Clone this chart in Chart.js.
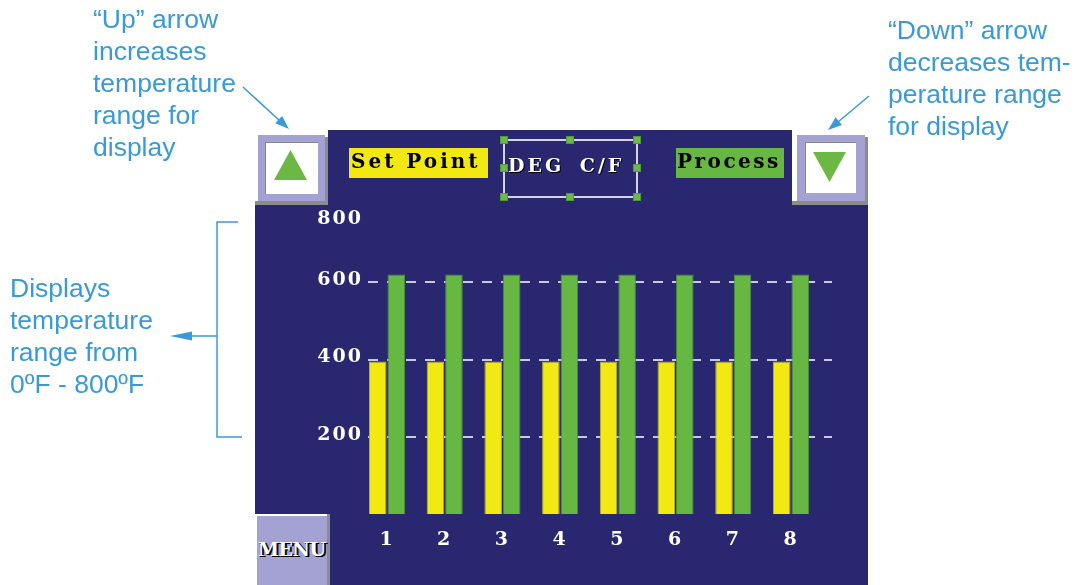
<!DOCTYPE html>
<html>
<head>
<meta charset="utf-8">
<script src="https://cdn.jsdelivr.net/npm/chart.js@4.4.1/dist/chart.umd.min.js"></script>
<style>
  html, body { margin: 0; padding: 0; background: #fff; }
  #page { position: relative; width: 1078px; height: 585px; overflow: hidden; font-family: "Liberation Sans", Arial, sans-serif; }
  .note { position: absolute; color: #3a9ad9; font-size: 26.5px; line-height: 32px; white-space: nowrap; }
  .blk { position: absolute; }
  .hmi { position: absolute; font-family: "DejaVu Serif", serif; font-weight: bold; white-space: pre; }
  #chart { position: absolute; left: 0; top: 0; }
  svg { position: absolute; left: 0; top: 0; }
</style>
</head>
<body>
<div id="page">
  <!-- screen panel -->
  <div class="blk" style="left:255px;top:130px;width:613px;height:455px;background:#29276f"></div>

  <canvas id="chart" width="1078" height="585"></canvas>

  <!-- up button -->
  <div class="blk" style="left:255px;top:130px;width:73px;height:71px;background:#fff"></div>
  <div class="blk" style="left:325px;top:137px;width:3px;height:68px;background:#8c8c8c"></div>
  <div class="blk" style="left:255px;top:201px;width:73px;height:4px;background:#8c8c8c"></div>
  <div class="blk" style="left:258px;top:135px;width:67px;height:66px;background:#a4a2d2"></div>
  <div class="blk" style="left:265px;top:142px;width:52px;height:51px;background:#fff;border-left:1px solid #888;border-top:1px solid #888"></div>

  <!-- down button -->
  <div class="blk" style="left:792px;top:130px;width:76px;height:71px;background:#fff"></div>
  <div class="blk" style="left:865px;top:137px;width:3px;height:68px;background:#8c8c8c"></div>
  <div class="blk" style="left:792px;top:201px;width:76px;height:4px;background:#8c8c8c"></div>
  <div class="blk" style="left:797px;top:135px;width:68px;height:66px;background:#a4a2d2"></div>
  <div class="blk" style="left:805px;top:142px;width:50px;height:50px;background:#fff;border-left:1px solid #888;border-top:1px solid #888"></div>

  <!-- legend labels -->
  <div class="blk" style="left:349px;top:148px;width:139px;height:30px;background:#f2e913"></div>
  <div class="hmi" style="left:351px;top:147px;font-size:20px;line-height:28px;letter-spacing:3px;color:#000">Set Point</div>
  <div class="blk" style="left:676px;top:148px;width:108px;height:30px;background:#66b843"></div>
  <div class="hmi" style="left:677px;top:147px;font-size:20px;line-height:28px;letter-spacing:2.5px;color:#000">Process</div>
  <div class="hmi" style="left:508px;top:153px;font-size:19px;line-height:24px;letter-spacing:3px;word-spacing:6px;color:#fff;text-shadow:1px 1px 0 #000">DEG C/F</div>

  <!-- menu button -->
  <div class="blk" style="left:255px;top:514px;width:75px;height:71px;background:#8c8c8c"></div>
  <div class="blk" style="left:255px;top:514px;width:72px;height:71px;background:#fff"></div>
  <div class="blk" style="left:257px;top:516px;width:70px;height:69px;background:#a4a2d2"></div>
  <div class="hmi" style="left:258px;top:537px;font-size:19px;line-height:24px;letter-spacing:-0.5px;color:#fff;text-shadow:1px 1px 0 #000,2px 1px 0 #000">MENU</div>

  <!-- annotations -->
  <div class="note" style="left:93px;top:3px">“Up” arrow<br>increases<br>temperature<br>range for<br>display</div>
  <div class="note" style="left:888px;top:14px">“Down” arrow<br>decreases tem-<br>perature range<br>for display</div>
  <div class="note" style="left:10px;top:272px">Displays<br>temperature<br>range from<br>0ºF - 800ºF</div>

  <svg width="1078" height="585">
    <polygon points="290.5,150 274,180 307,180" fill="#6bb845"/>
    <polygon points="813,152 846,152 829.5,182" fill="#6bb845"/>
    <rect x="504" y="140" width="133" height="57" fill="none" stroke="#d6d2ee" stroke-width="2"/>
    <g fill="#6cb84a" stroke="#4f9a35" stroke-width="1">
      <rect x="500.5" y="136.5" width="7" height="7"/>
      <rect x="566.5" y="136.5" width="7" height="7"/>
      <rect x="633.5" y="136.5" width="7" height="7"/>
      <rect x="500.5" y="164.5" width="7" height="7"/>
      <rect x="633.5" y="164.5" width="7" height="7"/>
      <rect x="500.5" y="193.5" width="7" height="7"/>
      <rect x="566.5" y="193.5" width="7" height="7"/>
      <rect x="633.5" y="193.5" width="7" height="7"/>
    </g>
    <g stroke="#3a9ad9" stroke-width="1.5" fill="none">
      <line x1="243" y1="87" x2="280" y2="121"/>
      <line x1="869" y1="96" x2="838" y2="122"/>
      <polyline points="238,222 217,222 217,437 242,437"/>
      <line x1="217" y1="336" x2="188" y2="336"/>
    </g>
    <g fill="#3a9ad9">
      <polygon points="289,129 275.3,123.3 282.1,115.9"/>
      <polygon points="828,130 835.6,117.3 842,124.9"/>
      <polygon points="170,336 192,331.5 192,340.5"/>
    </g>
  </svg>
</div>

<script>
  const categories = ['1', '2', '3', '4', '5', '6', '7', '8'];
  const setPointValues = [395, 395, 395, 395, 395, 395, 395, 395];
  const processValues = [620, 620, 620, 620, 620, 620, 620, 620];
  const yTicks = [200, 400, 600, 800];

  // x axis range picked so the chart area lines up with the dashed grid
  const xMin = 0.6708;
  const xMax = 8.7104;

  const toPoints = (values) => values.map((v, i) => ({ x: i + 1, y: v }));

  const hmiLook = {
    id: 'hmiLook',
    beforeDraw(chart) {
      chart.ctx.letterSpacing = '2px';
      // the top label sits lower on the real panel
      chart.scales.y.getLabelItems().forEach((item) => {
        if (item.label === '800' && !item.moved) {
          item.options.translation[1] += 16;
          item.moved = true;
        }
      });
    }
  };

  Chart.defaults.font.family = '"DejaVu Serif", serif';

  new Chart(document.getElementById('chart'), {
    type: 'bar',
    data: {
      datasets: [
        {
          label: 'Set Point',
          data: toPoints(setPointValues),
          backgroundColor: '#f2e913',
          borderColor: '#b9b23a',
          borderWidth: 1,
          categoryPercentage: 0.641,
          barPercentage: 0.95
        },
        {
          label: 'Process',
          data: toPoints(processValues),
          backgroundColor: '#66b843',
          borderColor: '#4c8f3a',
          borderWidth: 1,
          categoryPercentage: 0.641,
          barPercentage: 0.95
        }
      ]
    },
    options: {
      responsive: false,
      animation: false,
      devicePixelRatio: 1,
      layout: { padding: { left: 0, top: 205, right: 246, bottom: 0 } },
      plugins: {
        legend: { display: false },
        tooltip: { enabled: false }
      },
      scales: {
        x: {
          type: 'linear',
          offset: false,
          min: xMin,
          max: xMax,
          afterBuildTicks: (scale) => { scale.ticks = categories.map((c, i) => ({ value: i + 1 })); },
          afterFit: (scale) => { scale.height = 71; },
          grid: { display: false },
          border: { display: false },
          ticks: {
            color: '#ffffff',
            font: { size: 19, weight: 'bold' },
            padding: 7,
            autoSkip: false,
            maxRotation: 0,
            callback: (value) => categories[value - 1]
          }
        },
        y: {
          min: 0,
          max: 800,
          afterBuildTicks: (scale) => { scale.ticks = yTicks.map((v) => ({ value: v })); },
          afterFit: (scale) => { scale.width = 368; },
          grid: {
            color: (ctx) => (ctx.tick && ctx.tick.value === 800 ? 'rgba(0,0,0,0)' : '#c9c8e2'),
            lineWidth: 2,
            drawTicks: false
          },
          border: { display: false, dash: [10, 9] },
          ticks: {
            color: '#ffffff',
            font: { size: 19, weight: 'bold' },
            padding: 5,
            labelOffset: -2
          }
        }
      }
    },
    plugins: [hmiLook]
  });
</script>
</body>
</html>
